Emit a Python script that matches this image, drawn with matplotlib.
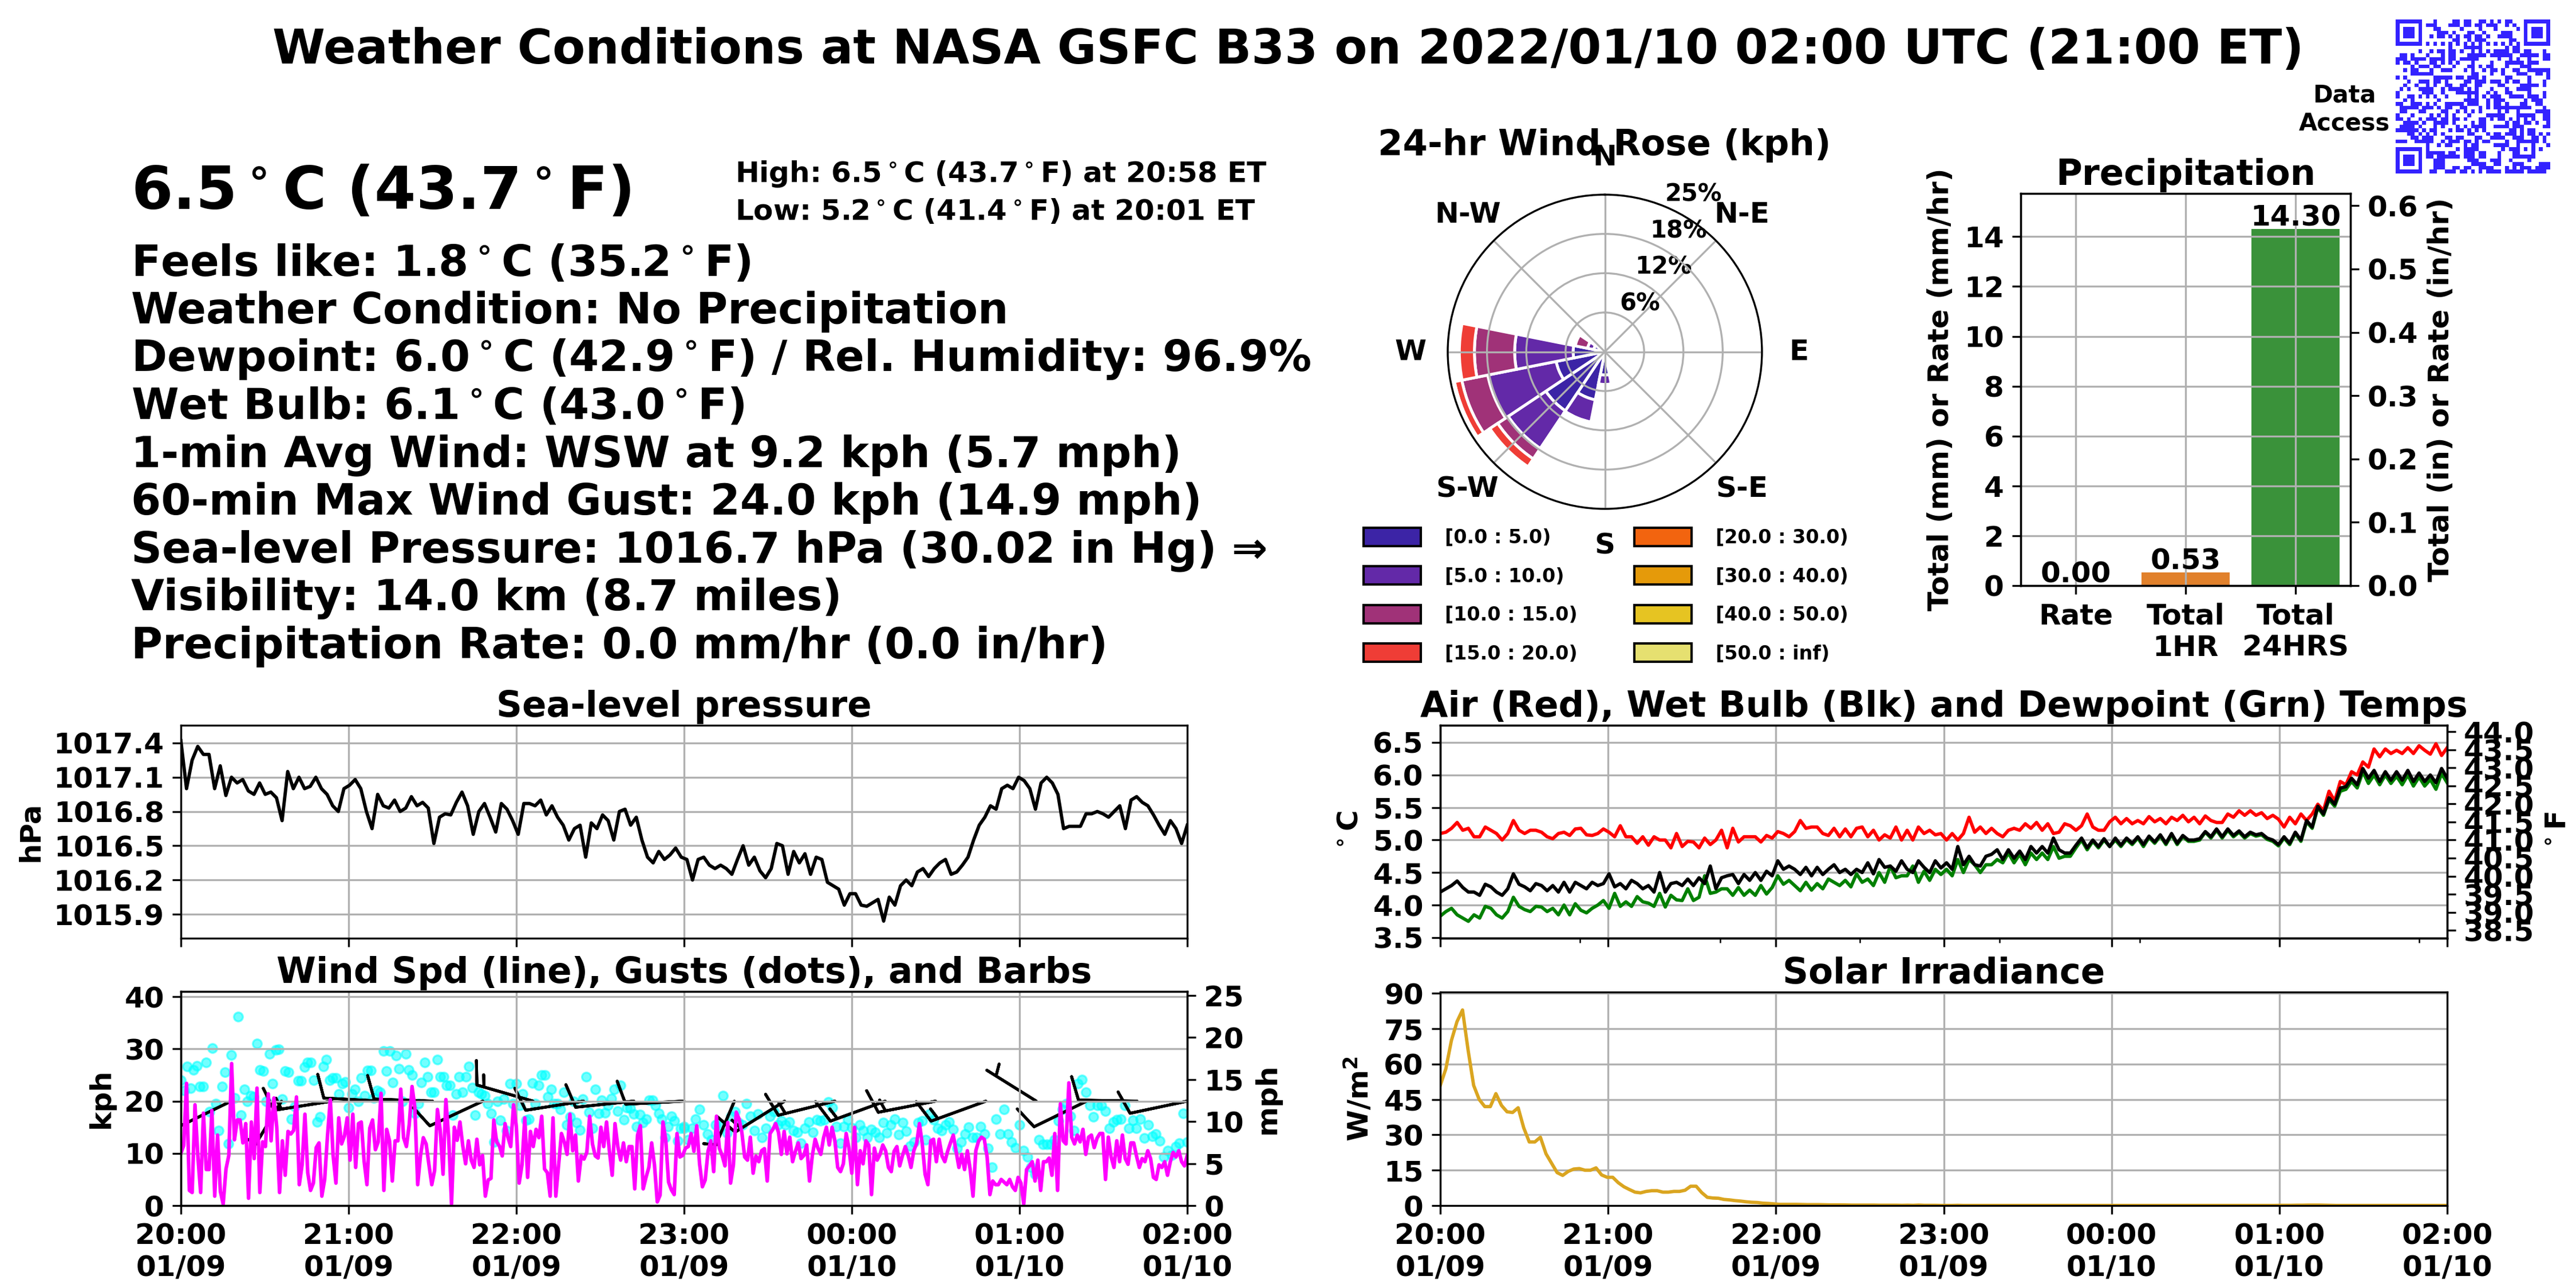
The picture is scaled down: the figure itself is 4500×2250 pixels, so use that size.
import numpy as np
import pandas as pd
import matplotlib
matplotlib.use("Agg")
import matplotlib.pyplot as plt
import matplotlib.dates as mdates
from matplotlib.colors import ListedColormap
from matplotlib.patches import Patch

# --- station readings ---
start_time = "2022-01-09 20:00"
end_time = "2022-01-10 02:00"

pressure = [
    1017.42, 1017.0, 1017.25, 1017.37, 1017.3, 1017.3, 1017.0, 1017.2, 1016.94, 1017.1, 1017.05, 1017.08, 1016.98,
    1016.95, 1017.05, 1016.95, 1016.97, 1016.92, 1016.72, 1017.15, 1017.0, 1017.1, 1017.0, 1017.02, 1017.1, 1017.0,
    1016.95, 1016.85, 1016.8, 1017.0, 1017.03,
    1017.08, 1017.0, 1016.8, 1016.65, 1016.95, 1016.85, 1016.83, 1016.9, 1016.8, 1016.83, 1016.93, 1016.85, 1016.88,
    1016.83, 1016.52, 1016.75, 1016.78, 1016.77, 1016.88, 1016.97, 1016.85, 1016.6, 1016.8, 1016.87, 1016.75,
    1016.62, 1016.87, 1016.82, 1016.72, 1016.6,
    1016.87, 1016.87, 1016.85, 1016.9, 1016.77, 1016.85, 1016.75, 1016.68, 1016.55, 1016.65, 1016.68, 1016.4,
    1016.7, 1016.65, 1016.77, 1016.72, 1016.55, 1016.8, 1016.82, 1016.68, 1016.75, 1016.55, 1016.4, 1016.35,
    1016.45, 1016.38, 1016.42, 1016.48, 1016.4, 1016.38,
    1016.2, 1016.38, 1016.4, 1016.33, 1016.3, 1016.33, 1016.3, 1016.25, 1016.38, 1016.5, 1016.33, 1016.4, 1016.28,
    1016.22, 1016.3, 1016.52, 1016.5, 1016.25, 1016.45, 1016.35, 1016.43, 1016.25, 1016.4, 1016.38, 1016.18,
    1016.15, 1016.12, 1015.98, 1016.08, 1016.08,
    1015.98, 1015.97, 1016.0, 1016.03, 1015.84, 1016.05, 1015.98, 1016.15, 1016.2, 1016.15, 1016.27, 1016.3,
    1016.23, 1016.3, 1016.35, 1016.38, 1016.25, 1016.27, 1016.33, 1016.4, 1016.55, 1016.68, 1016.75, 1016.85,
    1016.82, 1017.0, 1017.03, 1017.0, 1017.1, 1017.07,
    1017.0, 1016.82, 1017.05, 1017.1, 1017.05, 1016.95, 1016.65, 1016.67, 1016.67, 1016.67, 1016.78, 1016.78,
    1016.8, 1016.78, 1016.75, 1016.8, 1016.85, 1016.65, 1016.9, 1016.93, 1016.88, 1016.85, 1016.77, 1016.68,
    1016.6, 1016.72, 1016.65, 1016.52, 1016.68,
]

air_temp = [
    5.1, 5.12, 5.18, 5.27, 5.15, 5.18, 5.05, 5.05, 5.2, 5.15, 5.1, 5.0, 5.1, 5.3, 5.15, 5.1, 5.15, 5.15, 5.12, 5.05,
    5.02, 5.1, 5.12, 5.07, 5.17, 5.18, 5.08, 5.07, 5.1, 5.17,
    5.12, 5.05, 5.22, 5.05, 5.05, 4.95, 5.05, 4.92, 5.05, 5.0, 5.0, 4.88, 5.1, 4.9, 4.98, 4.97, 4.88, 5.03, 4.93,
    5.0, 5.15, 4.88, 5.18, 4.97, 5.05, 5.05, 5.05, 4.97, 5.07, 5.03,
    5.13, 5.1, 5.05, 5.13, 5.3, 5.18, 5.2, 5.2, 5.1, 5.07, 5.18, 5.05, 5.17, 5.05, 5.18, 5.2, 5.05, 5.15, 5.0, 5.08,
    5.03, 5.2, 5.0, 5.15, 5.0, 5.2, 5.1, 5.15, 5.08, 5.1,
    5.0, 5.1, 5.0, 5.1, 5.35, 5.12, 5.2, 5.1, 5.18, 5.1, 5.05, 5.15, 5.18, 5.15, 5.25, 5.18, 5.27, 5.15, 5.25, 5.1,
    5.12, 5.25, 5.22, 5.15, 5.22, 5.4, 5.2, 5.15, 5.15, 5.28,
    5.35, 5.25, 5.33, 5.25, 5.3, 5.25, 5.36, 5.28, 5.33, 5.25, 5.35, 5.3, 5.38, 5.28, 5.35, 5.25, 5.37, 5.3, 5.27,
    5.27, 5.4, 5.35, 5.45, 5.38, 5.45, 5.38, 5.42, 5.33, 5.38, 5.32,
    5.2, 5.35, 5.25, 5.4, 5.3, 5.4, 5.55, 5.45, 5.75, 5.6, 5.9, 5.85, 6.05, 6.0, 6.2, 6.12, 6.4, 6.28, 6.4, 6.33,
    6.38, 6.33, 6.42, 6.33, 6.45, 6.38, 6.32, 6.48, 6.3, 6.42,
]

wet_bulb = [
    4.2, 4.25, 4.3, 4.37, 4.27, 4.2, 4.2, 4.15, 4.32, 4.28, 4.2, 4.15, 4.25, 4.48, 4.32, 4.28, 4.22, 4.33, 4.3, 4.22,
    4.3, 4.2, 4.35, 4.2, 4.35, 4.3, 4.25, 4.35, 4.3, 4.33,
    4.48, 4.28, 4.33, 4.25, 4.38, 4.33, 4.25, 4.3, 4.2, 4.5, 4.2, 4.33, 4.35, 4.3, 4.4, 4.3, 4.42, 4.33, 4.6, 4.25,
    4.42, 4.45, 4.47, 4.33, 4.47, 4.38, 4.5, 4.38, 4.52, 4.45,
    4.68, 4.55, 4.6, 4.55, 4.47, 4.58, 4.45, 4.58, 4.47, 4.55, 4.62, 4.5, 4.55, 4.47, 4.55, 4.5, 4.65, 4.48, 4.7,
    4.58, 4.6, 4.52, 4.68, 4.55, 4.5, 4.68, 4.58, 4.5, 4.68, 4.57,
    4.65, 4.55, 4.9, 4.62, 4.75, 4.62, 4.6, 4.75, 4.78, 4.85, 4.7, 4.85, 4.72, 4.83, 4.7, 4.9, 4.8, 4.9, 4.8, 5.03,
    4.85, 4.8, 4.8, 4.92, 5.03, 4.88, 5.0, 4.9, 5.02, 4.9,
    5.03, 4.92, 5.03, 4.95, 5.05, 4.93, 5.06, 4.97, 5.08, 4.95, 5.1, 4.95, 5.07, 5.0, 5.0, 5.02, 5.13, 5.05, 5.17,
    5.05, 5.17, 5.07, 5.14, 5.05, 5.12, 5.08, 5.1, 5.03, 5.0, 4.93,
    5.05, 4.95, 5.12, 5.0, 5.3, 5.2, 5.52, 5.4, 5.65, 5.55, 5.8, 5.82, 5.95, 5.85, 6.1, 5.95, 6.07, 5.9, 6.05, 5.92,
    6.05, 5.92, 6.07, 5.9, 6.03, 5.9, 6.0, 5.88, 6.1, 5.95,
]

dewpoint = [
    3.83, 3.9, 3.95, 3.85, 3.8, 3.75, 3.85, 3.8, 3.98, 3.95, 3.85, 3.8, 3.9, 4.12, 3.98, 3.93, 3.9, 3.98, 3.97, 3.9,
    3.95, 3.85, 4.0, 3.85, 4.02, 3.92, 3.88, 3.95, 4.0, 4.07,
    3.95, 4.18, 3.98, 4.05, 3.98, 4.13, 4.05, 4.03, 3.98, 4.18, 3.97, 4.15, 4.08, 4.07, 4.25, 4.07, 4.12, 4.45, 4.18,
    4.2, 4.25, 4.25, 4.15, 4.27, 4.15, 4.23, 4.15, 4.3, 4.17, 4.27,
    4.45, 4.32, 4.38, 4.3, 4.22, 4.35, 4.23, 4.33, 4.25, 4.4, 4.35, 4.3, 4.38, 4.28, 4.48, 4.35, 4.4, 4.3, 4.5, 4.35,
    4.6, 4.42, 4.45, 4.45, 4.6, 4.35, 4.52, 4.38, 4.55, 4.47,
    4.55, 4.45, 4.7, 4.5, 4.7, 4.62, 4.5, 4.62, 4.62, 4.7, 4.65, 4.8, 4.65, 4.78, 4.62, 4.8, 4.7, 4.8, 4.7, 4.9,
    4.72, 4.75, 4.75, 4.88, 5.0, 4.85, 4.98, 4.88, 5.0, 4.9,
    5.0, 4.9, 5.01, 4.93, 5.03, 4.9, 5.04, 4.95, 5.06, 4.93, 5.08, 4.93, 5.05, 4.98, 4.98, 5.0, 5.12, 5.03, 5.15,
    5.03, 5.15, 5.05, 5.12, 5.03, 5.1, 5.06, 5.08, 5.01, 4.98, 4.91,
    5.03, 4.93, 5.1, 4.98, 5.28, 5.18, 5.5, 5.38, 5.62, 5.52, 5.75, 5.78, 5.9, 5.8, 6.05, 5.87, 6.0, 5.85, 6.0, 5.87,
    5.98, 5.85, 6.0, 5.83, 5.97, 5.83, 5.93, 5.78, 6.02, 5.88,
]

wind_kph = [
    10.0, 11.5, 23.4, 2.9, 2.5, 19.3, 9.6, 2.5, 17.7, 6.9, 6.9, 18.2, 1.8, 13.5, 2.7, 0.3, 7.0, 9.6, 27.2, 12.6, 16.4,
    16.4, 12.0, 15.7, 1.4, 16.0, 9.0, 22.5, 2.5, 12.2, 11.3, 21.4, 12.4, 20.6, 15.1, 2.5, 12.4, 5.8, 14.2, 13.7, 14.4,
    20.8, 4.0, 7.8, 17.5, 6.3, 2.9, 4.3, 11.1, 12.0, 1.8, 5.0, 13.3, 20.3, 9.6, 4.3, 16.8, 11.8, 13.3, 16.8, 8.7, 17.5,
    7.3, 15.7, 16.0, 8.5, 4.0, 14.8, 16.4, 10.7, 12.2, 21.5, 2.9, 14.6, 12.4, 4.7, 12.4, 12.4, 22.3, 13.0, 11.3, 15.5,
    22.8, 18.8, 4.0, 9.6, 13.0, 11.8, 7.8, 4.0, 6.7, 18.4, 14.4, 6.0, 20.3, 13.0, 0.3, 15.0, 12.5, 16.0, 11.4, 8.0,
    12.4, 8.7, 7.3, 12.7, 7.8, 9.6, 1.8, 4.9, 5.2, 16.4, 12.2, 11.4, 9.5, 15.7, 13.1, 11.3, 19.3, 15.1, 4.3, 7.8, 16.8,
    5.4, 14.2, 11.3, 14.6, 13.0, 17.1, 7.0, 6.3, 1.8, 16.8, 1.8, 7.8, 13.8, 12.2, 9.8, 17.5, 10.5, 13.5, 4.7, 9.5, 8.9,
    10.2, 17.1, 11.8, 9.5, 9.1, 15.0, 11.3, 16.0, 10.5, 5.8, 15.7, 11.3, 8.7, 12.0, 8.4, 11.3, 11.3, 3.2, 13.5, 15.3,
    3.2, 5.4, 7.3, 12.0, 7.8, 0.7, 2.0, 16.0, 12.6, 4.5, 3.0, 2.1, 13.8, 9.3,
    9.6, 11.0, 11.3, 13.8, 10.4, 15.3, 8.0, 3.6, 4.9, 10.4, 12.4, 6.5, 17.1, 11.0, 9.6, 7.6, 15.9, 4.3, 7.8, 17.9, 16.6,
    14.0, 9.3, 8.7, 13.1, 6.2, 9.5, 8.4, 10.5, 10.9, 4.7, 13.8, 14.6, 15.7, 14.0, 9.8, 14.2, 9.9, 13.1, 8.4, 10.4, 12.0,
    9.0, 9.6, 11.6, 4.7, 9.6, 12.7, 11.0, 9.8, 13.0, 15.0, 11.6, 15.0, 12.4, 7.3, 6.5, 8.0, 13.8, 11.0, 6.2, 15.0, 4.0,
    10.5, 8.0, 12.4, 11.6, 2.1, 11.0, 8.7, 9.8, 11.6, 10.5, 7.3, 6.5, 10.4, 11.3, 7.6, 9.6, 11.3, 9.6, 7.3, 10.5, 11.9,
    15.7, 11.8, 6.0, 4.0, 12.4, 12.7, 8.4, 12.7, 9.5, 8.4, 10.4, 12.0, 13.5, 10.4, 7.3, 9.8, 6.9, 10.5, 6.9, 1.8, 10.5,
    12.4, 13.1, 12.7, 9.3, 2.1, 4.7, 4.0, 4.0, 5.0, 4.5, 4.0, 5.0, 3.6, 2.9, 5.4, 4.3, 0.3, 6.9, 7.6, 8.4, 4.7, 8.7,
    2.9, 8.4, 8.4, 9.1, 5.8, 13.8, 2.9, 19.5, 12.4, 11.8, 23.5, 13.1, 11.8, 13.5, 12.2, 14.6, 9.8, 13.1, 13.5, 11.1,
    12.9, 13.8, 13.8, 5.0, 13.1, 9.3, 7.3, 12.4, 8.4, 13.5, 9.0, 7.9, 12.0, 12.0, 9.5, 7.3, 9.0, 8.4, 10.5, 9.0, 5.4,
    5.0, 7.8, 7.3, 8.4, 5.8, 8.4, 10.2, 9.3, 10.5, 8.4, 7.6, 9.6,
]

gust_evening = [
    24, 22, 26.6, 22.5, 26, 26.7, 22.8, 22.8, 27.4, 18, 30.2, 19.5, 14.4, 22.8, 25.5, 11.8, 28.8, 20.6, 36.2, 17.3,
    22.3, 19.9, 21, 20.8, 31, 26, 25.8, 20, 29, 23.3, 29.8, 29.9, 20.4, 25.8, 25.5, 16.6, 19, 23.9, 23.9, 26.5, 27.4,
    27.4, 24, 16, 17, 26.6, 28, 24, 24.4, 24.5, 21.4, 23.3, 23.7, 18.8, 21.4, 22.3, 19.9, 24.4, 21, 25.9, 25.9, 20.6,
    22, 21.7, 29.6, 25.8, 29.6, 23.6, 28.7, 26.2, 19.9, 29, 26, 25, 17.7, 19.5, 23.6, 27.4, 24.7, 21.7, 21.7, 28, 24.7,
    24.7, 23, 23, 17.3, 21.4, 24.7, 21.7, 24.7, 26.6, 22.6, 17.3, 21.7, 21.4, 21, 19.5, 17.7, 12.2, 20, 16.3, 20.4,
    14.4, 23.4, 19.5, 23.4, 19.2, 21.4, 16.3, 16.6, 23.5, 19.5, 23, 25, 25, 20.8, 22.3, 19.5, 19.5, 18.4, 21.7, 15.5,
    17, 20, 15.9, 14.5, 20.4, 24.7, 17.9, 14.8, 22.2, 17.7, 20.2, 17.8, 19.2, 20.5, 22.3, 18.1, 23, 16.4, 18.8, 18.6,
    17.5, 15.1, 17.4, 15.9, 16.6, 20.2, 20.2, 19.2, 17.7, 16.6, 13, 15.1, 17.1, 16.2, 12.4, 14.8, 15.1,
]

gust_night = [
    14.8, 12.6, 14.8, 16.6, 18.4, 15.5, 13.7, 12.6, 15.5, 15.3, 21, 13.9, 17.1, 18, 15.9, 15.5, 19.5, 17.1, 14.4, 17.5,
    13, 14.8, 17.1, 18, 15.5, 16.2, 15.5, 16, 14.4, 14, 11.9, 14.8, 16, 14, 16.4, 16.2, 16.4, 19.8, 18.8, 15.1, 12,
    15.1, 16.4, 14.9, 13, 15.5, 14.4, 13, 14.6, 14, 13, 15.9, 13.9, 15.5, 16.6, 13.6, 15.9, 14.2, 11.4, 12.2, 15.9,
    16.2, 12.6, 17.5, 16.4, 14.8, 14.4, 15.5, 16, 14.6, 11, 12.2, 13.7, 15, 13.1, 13.1, 15.1, 13.7, 11, 7.3, 16.6, 13.7,
    18.4, 13.7, 12.2, 11.1, 15.5, 10.5, 9.3, 7.3, 6, 12.6, 11.7, 11.7, 11.7, 12.6, 16.2, 18.4, 19.5, 17.1, 14.4, 23.3,
    24.1, 21.7, 19.2, 17, 19.2, 19.2, 18.1, 14.8, 16, 16.4, 16.6, 19.2, 14.8, 16.3, 14.8, 16.6, 12.9, 15.5, 13.3, 13.7,
    12.4, 9.3, 10.5, 9.6, 11.3, 12, 17.6, 12.2,
]

# barbs every 18 minutes, always along the 20 kph line
barb_speed = [10, 10, 5, 15, 10, 10, 10, 15, 10, 10, 10, 5, 15, 15, 15, 15, 15, 5, 10, 10, 10]
barb_dir = [250, 244, 211, 261, 273, 272, 245, 286, 261, 264, 267, 203, 238, 256, 250, 259, 250, 302, 244, 271, 258]

solar = [
    51, 58, 70, 78, 83, 66, 51, 45, 42, 42, 47.5, 42.5, 39.8, 39.5, 41.5, 33, 27, 27, 29, 22, 18, 14, 12.8, 14.5, 15.5,
    15.7, 15, 15, 16, 13, 12,
    12, 9.7, 8, 6.8, 5.7, 5.4, 6, 6.3, 6.3, 5.7, 5.7, 6, 6, 6.5, 8.2, 8.2, 5.5, 3.5, 3.2, 3.1, 2.6, 2.4, 2.1, 1.9, 1.6,
    1.4, 1.3, 1, 0.9, 0.7,
    0.5, 0.5, 0.5, 0.5, 0.45, 0.4, 0.4, 0.4, 0.35, 0.3, 0.3, 0.3, 0.25, 0.2, 0.2, 0.2, 0.2, 0.2, 0.15, 0.15, 0.15, 0.15,
    0.1, 0.15, 0.1, 0.2, 0.1, 0.1, 0.1, 0.05,
    0.05, 0.05, 0.1, 0.05, 0.05, 0.05, 0.05, 0.05, 0.05, 0.05, 0.05, 0.05, 0.05, 0.05, 0.05, 0.05, 0.05, 0.05, 0.05,
    0.05, 0.05, 0.05, 0.05, 0.05, 0.05, 0.05, 0.05, 0.05, 0.05, 0.05,
    0.05, 0.05, 0.05, 0.05, 0.05, 0.05, 0.05, 0.05, 0.05, 0.05, 0.05, 0.05, 0.05, 0.05, 0.05, 0.05, 0.05, 0.05, 0.05,
    0.05, 0.05, 0.05, 0.05, 0.05, 0.05, 0.05, 0.05, 0.05, 0.05, 0.05,
    0.1, 0.1, 0.1, 0.15, 0.15, 0.2, 0.2, 0.2, 0.15, 0.1, 0.05, 0.05, 0.05, 0.05, 0.05, 0.05, 0.05, 0.05, 0.05, 0.05,
    0.05, 0.05, 0.05, 0.05, 0.05, 0.05, 0.05, 0.05, 0.05, 0.05, 0.05,
]

precip_labels = ["Rate", "Total\n1HR", "Total\n24HRS"]
precip_values = [0.00, 0.53, 14.30]
precip_colors = ["#3274a1", "#e1812c", "#3a923a"]

# wind rose: percent of time per direction sector and speed bin
rose_dirs = [180, 202.5, 225, 247.5, 270, 292.5]
rose_bins = [
    [3.7, 7.8, 11.3, 7.9, 5.05, 1.8],
    [1.5, 3.6, 7.2, 11.1, 9.3, 1.0],
    [0.0, 0.2, 2.0, 4.2, 6.4, 2.0],
    [0.0, 0.1, 1.5, 1.2, 2.4, 0.0],
    [0.0, 0.0, 0.0, 0.4, 0.0, 0.0],
]
rose_labels = ["[0.0 : 5.0)", "[5.0 : 10.0)", "[10.0 : 15.0)", "[15.0 : 20.0)",
               "[20.0 : 30.0)", "[30.0 : 40.0)", "[40.0 : 50.0)", "[50.0 : inf)"]
rose_colors = ["#3c24a6", "#6329a8", "#a03278", "#ef3d36", "#f2640f", "#e59a0a", "#e6c422", "#e6e070"]
rose_ticks = ["N", "N-E", "E", "S-E", "S", "S-W", "W", "N-W"]
rose_rings = [6.25, 12.5, 18.75, 25]
rose_ring_labels = ["6%", "12%", "18%", "25%"]

big_line = "6.5$^\\circ$C (43.7$^\\circ$F)"
high_low = ["High: 6.5$^\\circ$C (43.7$^\\circ$F) at 20:58 ET", "Low: 5.2$^\\circ$C (41.4$^\\circ$F) at 20:01 ET"]
info_lines = [
    "Feels like: 1.8$^\\circ$C (35.2$^\\circ$F)",
    "Weather Condition: No Precipitation",
    "Dewpoint: 6.0$^\\circ$C (42.9$^\\circ$F) / Rel. Humidity: 96.9%",
    "Wet Bulb: 6.1$^\\circ$C (43.0$^\\circ$F)",
    "1-min Avg Wind: WSW at 9.2 kph (5.7 mph)",
    "60-min Max Wind Gust: 24.0 kph (14.9 mph)",
    "Sea-level Pressure: 1016.7 hPa (30.02 in Hg) \u21d2",
    "Visibility: 14.0 km (8.7 miles)",
    "Precipitation Rate: 0.0 mm/hr (0.0 in/hr)",
]

qr_rows = [
    "11111110001000011011001101010110001111111",
    "10000010111000111011011011100101001000001",
    "10111010001100000100001000100000101011101",
    "10111010000111010001100100001110001011101",
    "10111010010110101011011010011110001011101",
    "10000010000000011001011100000011001000001",
    "11111110101010101010101010101010101111111",
    "00000000000000100011111000000101100000000",
    "00000010010110110100101010111101101100010",
    "01101000100010110001111101111110011111011",
    "11101111011110110111110000010010100100011",
    "10110100011010101000100001000111110111000",
    "00001011101100010001101011000100011100000",
    "00101100010011100010100101101001100111111",
    "00001111110000000000110001001000111001101",
    "10100000001111101101110100000110000100001",
    "00010011101101000011011101110101100100010",
    "00100100101001100110011000011000011111010",
    "01010011110010111101010001000100111100000",
    "10000001110010001111110010100110000100010",
    "10011010101001000001010101110011110111010",
    "00101000000100000011110010111000001011100",
    "11001110101001111101110010110100011001100",
    "01111101110101100110001010111111111100010",
    "01100011000011001010101000010100100001111",
    "10001000010101010001000011111000111110011",
    "11010010111011011010001101011010101010011",
    "00111101001111010000101100000101101101001",
    "01111010001010001010111100111101110000011",
    "11111101011000101101010100000011010110000",
    "00011010101010000001100010110111010110101",
    "00001101110001101100011001111001110011010",
    "11100111110010111011010110000100111111010",
    "00000000100101100010110000111100100010001",
    "11111110100000001011110000001011101010100",
    "10000010111110110011101100010001100010000",
    "10111010110111111011101100010001111110000",
    "10111010001110000001110001110010000100000",
    "10111010001110000000111100110001110000111",
    "10000010001110011011001111000101011101111",
    "11111110011001110110101011110111110111110",
]

plt.rcParams["font.family"] = ["DejaVu Sans"]
plt.rcParams["font.weight"] = "bold"
plt.rcParams["font.size"] = 12
plt.rcParams["axes.titlesize"] = 15
plt.rcParams["axes.titleweight"] = "bold"
plt.rcParams["axes.titlepad"] = 3.5
plt.rcParams["axes.labelweight"] = "bold"
plt.rcParams["mathtext.default"] = "bf"

W, H = 4500.0, 2250.0


def box(left, top, right, bottom):
    # axes rectangle from pixel edges of the 4500x2250 canvas
    return [left / W, 1 - bottom / H, (right - left) / W, (bottom - top) / H]


def times(values, first=start_time, last=end_time):
    return pd.date_range(first, last, periods=len(values))


def time_axis(ax, show_labels):
    ax.set_xlim(pd.Timestamp(start_time), pd.Timestamp(end_time))
    ax.xaxis.set_major_locator(mdates.HourLocator(interval=1))
    ax.xaxis.set_major_formatter(mdates.DateFormatter("%H:%M\n%m/%d"))
    ax.tick_params(axis="x", labelbottom=show_labels)
    ax.grid(True)


fig = plt.figure(figsize=(15, 7.5), dpi=300)
fig.suptitle("Weather Conditions at NASA GSFC B33 on 2022/01/10 02:00 UTC (21:00 ET)",
             fontsize=20, fontweight="bold", x=0.5, y=1 - 88 / H, va="center")

# text block
fig.text(229 / W, 1 - 336 / H, big_line, fontsize=25, va="center")
for i, line in enumerate(high_low):
    fig.text(1284 / W, 1 - (304 + 66 * i) / H, line, fontsize=12, va="center")
for i, line in enumerate(info_lines):
    fig.text(229 / W, 1 - (461 + 83.5 * i) / H, line, fontsize=18, va="center")

# QR code
ax_qr = fig.add_axes(box(4185, 34, 4455, 303))
qr_cells = np.array([[int(c) for c in row] for row in qr_rows])
ax_qr.imshow(qr_cells, cmap=ListedColormap(["white", "#3322ff"]), interpolation="nearest", aspect="auto")
ax_qr.axis("off")
fig.text(4095 / W, 1 - 191 / H, "Data\nAccess", fontsize=10, ha="center", va="center")

# wind rose
ax_rose = fig.add_axes(box(2529, 338, 3078, 891), projection="polar")
ax_rose.set_theta_zero_location("N")
ax_rose.set_theta_direction(-1)
theta = np.deg2rad(rose_dirs)
bottom = np.zeros(len(rose_dirs))
for heights, color in zip(rose_bins, rose_colors):
    heights = np.array(heights)
    keep = heights > 0
    ax_rose.bar(theta[keep], heights[keep], width=np.deg2rad(22.5), bottom=bottom[keep],
                color=color, edgecolor="white", linewidth=1.2)
    bottom += heights
ax_rose.set_ylim(0, 25)
ax_rose.set_thetagrids(np.arange(0, 360, 45), rose_ticks)
ax_rose.set_rgrids(rose_rings, rose_ring_labels, angle=22.5, fontsize=10)
ax_rose.tick_params(axis="x", pad=5)
fig.text(2803 / W, 1 - 254 / H, "24-hr Wind Rose (kph)", fontsize=15, ha="center", va="center")
handles = [Patch(facecolor=c, edgecolor="black", linewidth=1.0) for c in rose_colors]
fig.legend(handles, rose_labels, ncol=2, loc="upper left", bbox_to_anchor=(2382 / W, 1 - 922 / H),
           bbox_transform=fig.transFigure, frameon=False, fontsize=8, handlelength=3.0, handleheight=1.08,
           handletextpad=1.25, labelspacing=1.0, columnspacing=3.0, borderpad=0, borderaxespad=0)

# precipitation
ax_rain = fig.add_axes(box(3530, 338, 4106, 1023))
ax_rain.bar(range(3), precip_values, width=0.8, color=precip_colors)
ax_rain.set_xlim(-0.5, 2.5)
ax_rain.set_ylim(0, max(precip_values) * 1.1)
ax_rain.set_xticks(range(3), precip_labels)
ax_rain.set_yticks(np.arange(0, 15, 2))
ax_rain.grid(True)
ax_rain.set_title("Precipitation")
ax_rain.set_ylabel("Total (mm) or Rate (mm/hr)")
ax_rain.bar_label(ax_rain.containers[0], fmt="%.2f", padding=-1, fontsize=12, fontweight="bold")
ax_rain2 = ax_rain.twinx()
ax_rain2.set_ylim(0, max(precip_values) * 1.1 / 25.4)
ax_rain2.set_yticks(np.arange(0, 0.61, 0.1))
ax_rain2.set_ylabel("Total (in) or Rate (in/hr)")

# pressure
ax_press = fig.add_axes(box(316, 1267, 2074, 1639))
ax_press.plot(times(pressure), pressure, color="black", linewidth=1.4)
time_axis(ax_press, False)
ax_press.set_ylim(1015.69, 1017.555)
ax_press.set_yticks([1015.9, 1016.2, 1016.5, 1016.8, 1017.1, 1017.4])
ax_press.set_yticklabels(["1015.9", "1016.2", "1016.5", "1016.8", "1017.1", "1017.4"])
ax_press.set_ylabel("hPa")
ax_press.set_title("Sea-level pressure")

# wind
ax_wind = fig.add_axes(box(316, 1732, 2074, 2106))
gust_x = list(times(gust_evening, start_time, "2022-01-09 23:00")) + list(times(gust_night, "2022-01-09 23:00", end_time))
ax_wind.scatter(gust_x, gust_evening + gust_night, s=14, color="cyan", alpha=0.55, linewidths=0.8)
ax_wind.plot(times(wind_kph), wind_kph, color="magenta", linewidth=1.5)
barb_x = pd.date_range(start_time, periods=len(barb_speed), freq="18min")
barb_rad = np.deg2rad(barb_dir)
barb_u = -np.array(barb_speed) * np.sin(barb_rad)
barb_v = -np.array(barb_speed) * np.cos(barb_rad)
ax_wind.barbs(mdates.date2num(barb_x), np.full(len(barb_x), 20.0), barb_u, barb_v, pivot="tip",
              linewidth=1.2, color="black")
time_axis(ax_wind, True)
ax_wind.set_ylim(0, 41)
ax_wind.set_yticks(np.arange(0, 41, 10))
ax_wind.set_ylabel("kph")
ax_wind.set_title("Wind Spd (line), Gusts (dots), and Barbs")
ax_wind2 = ax_wind.twinx()
ax_wind2.set_ylim(0, 41 / 1.609)
ax_wind2.set_yticks(np.arange(0, 26, 5))
ax_wind2.set_ylabel("mph")

# temperatures
ax_temp = fig.add_axes(box(2516, 1267, 4275, 1639))
ax_temp.plot(times(air_temp), air_temp, color="red", linewidth=1.4)
ax_temp.plot(times(dewpoint), dewpoint, color="green", linewidth=1.4)
ax_temp.plot(times(wet_bulb), wet_bulb, color="black", linewidth=1.4)
time_axis(ax_temp, False)
ax_temp.set_xticks(pd.date_range(start_time, end_time, freq="50min"), minor=True)
ax_temp.set_ylim(3.49, 6.764)
ax_temp.set_yticks(np.arange(3.5, 6.6, 0.5))
ax_temp.set_ylabel("$^\\circ$C")
ax_temp.set_title("Air (Red), Wet Bulb (Blk) and Dewpoint (Grn) Temps")
ax_temp2 = ax_temp.twinx()
ax_temp2.set_ylim(3.49 * 9 / 5 + 32, 6.764 * 9 / 5 + 32)
ax_temp2.set_yticks(np.arange(38.5, 44.1, 0.5))
ax_temp2.set_ylabel("$^\\circ$F")

# solar
ax_sun = fig.add_axes(box(2516, 1733, 4275, 2106))
ax_sun.plot(times(solar), solar, color="goldenrod", linewidth=1.4)
time_axis(ax_sun, True)
ax_sun.set_ylim(0, 90.6)
ax_sun.set_yticks(np.arange(0, 91, 15))
ax_sun.set_ylabel("W/m$^2$")
ax_sun.set_title("Solar Irradiance")

fig.savefig("out.png", dpi=300)
plt.close(fig)
